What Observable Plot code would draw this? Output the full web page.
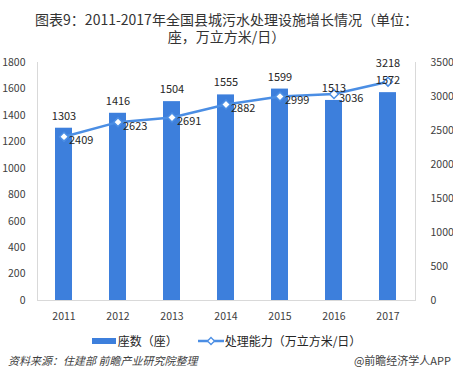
<!DOCTYPE html>
<html>
<head>
<meta charset="utf-8">
<script src="https://cdn.jsdelivr.net/npm/d3@7"></script>
<script src="https://cdn.jsdelivr.net/npm/@observablehq/plot@0.6"></script>
<style>
  html, body { margin: 0; padding: 0; background: #fff; }
  body { width: 453px; height: 385px; overflow: hidden; font-family: "Noto Sans CJK SC", "Noto Sans", sans-serif; color: #262626; }
  #title { box-sizing: border-box; height: 45px; padding-top: 11px; font-size: 14px; text-align: center; color: #333; }
  #title .ln { display: block; height: 17px; line-height: 17px; white-space: nowrap; }
  #title .ln span { display: inline-block; height: 17px; line-height: 17px; vertical-align: top; }
  #chart svg { display: block; }
  #legend { margin-top: 8px; height: 16px; display: flex; justify-content: center; align-items: center; font-size: 12px; line-height: 16px; color: #262626; }
  #legend .item { display: flex; align-items: center; }
  #footer { margin-top: 4px; display: flex; justify-content: space-between; font-size: 11px; line-height: 14px; padding: 0 2px 0 8px; color: #404040; }
  #footer .src { font-style: italic; }
</style>
</head>
<body>
<div id="title"><div class="ln"><span>图表9：2011-2017年全国县城污水处理设施增长情况（单位：</span></div><div class="ln"><span>座，万立方米/日）</span></div></div>
<div id="chart"></div>
<div id="legend"></div>
<div id="footer"><span class="src">资料来源：住建部 前瞻产业研究院整理</span><span>@前瞻经济学人APP</span></div>
<script>
const years = ["2011", "2012", "2013", "2014", "2015", "2016", "2017"];
const counts = [1303, 1416, 1504, 1555, 1599, 1513, 1572];
const capacity = [2409, 2623, 2691, 2882, 2999, 3036, 3218];
const leftTicks = [0, 200, 400, 600, 800, 1000, 1200, 1400, 1600, 1800];
const rightTicks = [0, 500, 1000, 1500, 2000, 2500, 3000, 3500];
const seriesNames = ["座数（座）", "处理能力（万立方米/日）"];

const barColor = "#3d7fdc";
const lineColor = "#4b8ee4";
const leftMax = 1800, rightMax = 3500;
const k = leftMax / rightMax;

const data = years.map((y, i) => ({year: y, count: counts[i], cap: capacity[i]}));
const lastYear = years[years.length - 1];

const chart = Plot.plot({
  width: 453,
  height: 280,
  marginTop: 17,
  marginBottom: 25,
  marginLeft: 37,
  marginRight: 38,
  style: {fontFamily: "'Noto Sans CJK SC', 'Noto Sans', sans-serif", fontSize: "10.5px", color: "#404040", background: "transparent"},
  x: {domain: years, paddingInner: 0.685, paddingOuter: 0.3425, label: null},
  y: {domain: [0, leftMax], label: null},
  marks: [
    Plot.frame({anchor: "left", stroke: "#d9d9d9"}),
    Plot.frame({anchor: "right", stroke: "#d9d9d9"}),
    Plot.barY(data, {x: "year", y: "count", fill: barColor}),
    Plot.ruleY([0], {stroke: "#d9d9d9"}),
    Plot.axisX({tickSize: 0, tickPadding: 12, label: null, fontSize: "10.5px"}),
    Plot.axisY({anchor: "left", ticks: leftTicks, tickSize: 0, tickPadding: 12, label: null, tickFormat: d => String(d)}),
    Plot.axisY({anchor: "right", ticks: rightTicks.map(t => t * k), tickSize: 0, tickPadding: 15, textAnchor: "start", label: null, tickFormat: d => String(Math.round(d / k))}),
    Plot.line(data, {x: "year", y: d => d.cap * k, stroke: lineColor, strokeWidth: 2.5}),
    Plot.dot(data, {x: "year", y: d => d.cap * k, symbol: "diamond2", r: 4, fill: "white", stroke: lineColor, strokeWidth: 1.5}),
    Plot.text(data, {x: "year", y: "count", text: d => String(d.count), dy: -12, fontSize: 11, fill: "#262626"}),
    Plot.text(data.filter(d => d.year !== lastYear), {x: "year", y: d => d.cap * k, text: d => String(d.cap), dx: 5, dy: 4, textAnchor: "start", fontSize: 11, fill: "#262626"}),
    Plot.text(data.filter(d => d.year === lastYear), {x: "year", y: d => d.cap * k, text: d => String(d.cap), dy: -18, fontSize: 11, fill: "#262626"})
  ]
});
document.getElementById("chart").appendChild(chart);

// legend
const legend = document.getElementById("legend");
legend.innerHTML = `
  <span class="item"><span style="display:inline-block;width:24px;height:6px;background:${barColor};margin-right:2px"></span>${seriesNames[0]}</span>
  <span class="item" style="margin-left:20px"><svg width="26" height="10" style="margin-right:1px"><line x1="0" y1="5" x2="26" y2="5" stroke="${lineColor}" stroke-width="2.5"/><path d="M13,1.5L16.5,5L13,8.5L9.5,5Z" fill="white" stroke="${lineColor}" stroke-width="1.3"/></svg>${seriesNames[1]}</span>`;
</script>
</body>
</html>
